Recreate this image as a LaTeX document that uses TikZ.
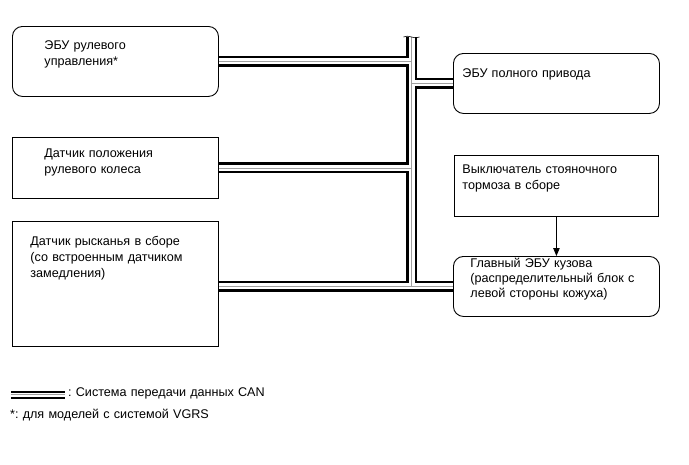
\documentclass[tikz,border=0pt]{standalone}
\usepackage{fontspec}
\setmainfont{Liberation Sans}
\usetikzlibrary{positioning,arrows.meta,backgrounds}
\definecolor{BusGrey}{RGB}{160,160,160}
\frenchspacing

\begin{document}
\begin{tikzpicture}[x=1pt, y=-1pt, font=\fontsize{12.6}{16}\selectfont, line width=0.9pt]
\tikzset{
  box/.style={draw, inner sep=0pt, anchor=north west, minimum width=206pt},
  rbox/.style={box, rounded corners=10pt},
  txt/.style={inner sep=0pt, anchor=base west, align=left, text width=200pt},
  arr/.style={-{Triangle[length=8pt, width=6.5pt]}, line width=0.8pt}
}
  \useasboundingbox (0,0) rectangle (689,464);

  % left column
  \node[rbox, minimum height=70pt] (steer) at (12,26) {};
  \node[box, minimum height=61pt] (swa) at (12,137) {};
  \node[box, minimum height=125pt] (yaw) at (12,221) {};
  % right column
  \node[rbox, minimum height=60pt] (awd) at (453,53) {};
  \node[box, minimum width=204pt, minimum height=61pt] (pkb) at (454,155) {};
  \node[rbox, minimum height=60pt] (body) at (453,256) {};

  \node[txt] (steertxt) at ([xshift=32pt, yshift=-23pt]steer.north west) {ЭБУ рулевого\\управления*};
  \node[txt] (swatxt) at ([xshift=32pt, yshift=-20pt]swa.north west) {Датчик положения\\рулевого колеса};
  \node[txt] (yawtxt) at ([xshift=18pt, yshift=-24pt]yaw.north west) {Датчик рысканья в сборе\\(со встроенным датчиком\\замедления)};
  \node[txt] (awdtxt) at ([xshift=9pt, yshift=-24pt]awd.north west) {ЭБУ полного привода};
  \node[txt] (pkbtxt) at ([xshift=8pt, yshift=-18pt]pkb.north west) {Выключатель стояночного\\тормоза в сборе};
  \node[txt, font=\fontsize{12.6}{15}\selectfont] (bodytxt) at ([xshift=17pt, yshift=-11pt]body.north west) {Главный ЭБУ кузова\\(распределительный блок с\\левой стороны кожуха)};

  \draw[arr] (pkb) -- (body);

  % CAN bus
  \coordinate (bustop) at (411.5,37);
  \begin{pgfonlayer}{background}
  \foreach \w/\c in {11pt/black, 6pt/white, 0.5pt/BusGrey}
    \draw[line width=\w, draw=\c]
      (bustop) -- (bustop |- body.west)
      (steer.east) -- (steer.east -| bustop)
      (swa.east) -- (swa.east -| bustop)
      (awd.west) -- (awd.west -| bustop)
      (body.west -| yaw.east) -- (body.west);
  \end{pgfonlayer}
  \draw[line width=0.6pt] ([xshift=-8pt]bustop) .. controls ([xshift=-3pt, yshift=3pt]bustop) and ([xshift=3pt, yshift=-3pt]bustop) .. ([xshift=8pt]bustop);

  % legend
  \coordinate (lgA) at (11,394.5);
  \coordinate (lgB) at (65,394.5);
  \foreach \w/\c in {8pt/black, 4pt/white, 0.5pt/BusGrey}
    \draw[line width=\w, draw=\c] (lgA) -- (lgB);
  \node[txt] (lgtxt) at (68,396) {: Система передачи данных CAN};
  \node[txt] (note) at (10,418) {*: для моделей с системой VGRS};
\end{tikzpicture}
\end{document}
